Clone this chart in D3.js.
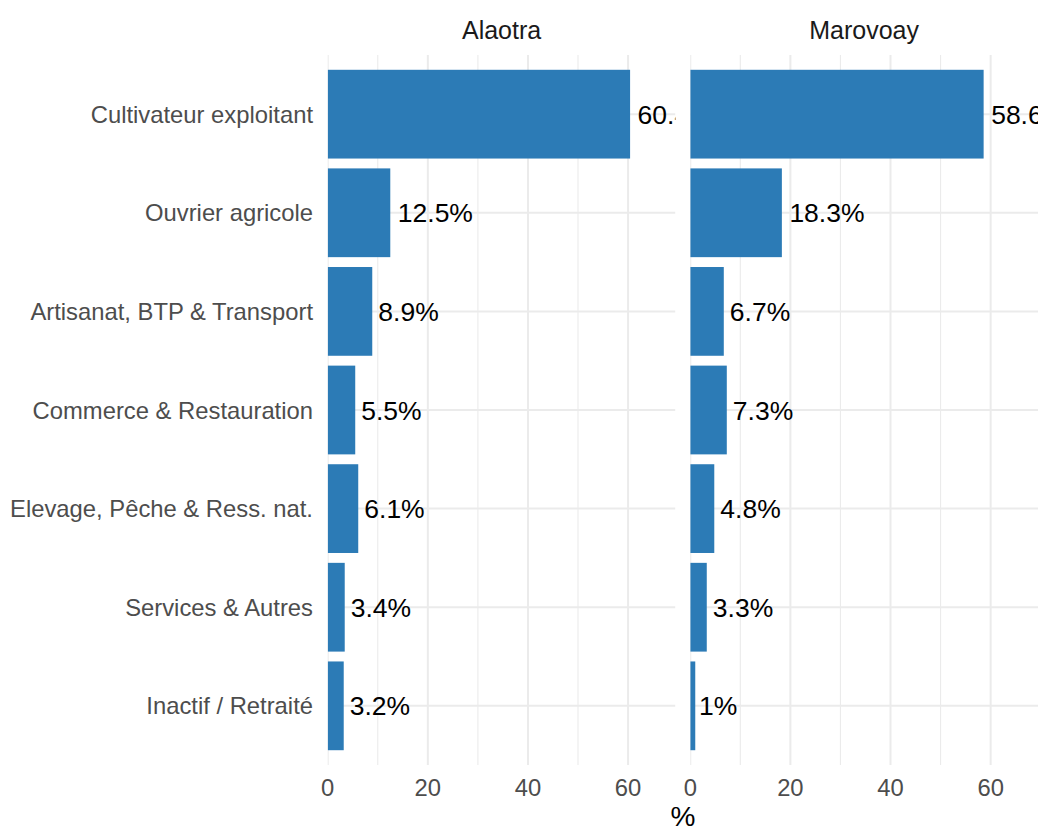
<!DOCTYPE html>
<html>
<head>
<meta charset="utf-8">
<script src="https://cdn.jsdelivr.net/npm/d3@7"></script>
<style>
	body { margin: 0; background: #fff; }
	text { font-family: "Liberation Sans", Arial, Helvetica, sans-serif; }
</style>
</head>
<body>
<svg id="chart"></svg>
<script>
const width		= 1044;
const height	= 831;

// data (share of households, %)
const categories = ["Cultivateur exploitant", "Ouvrier agricole", "Artisanat, BTP & Transport",
	"Commerce & Restauration", "Elevage, Pêche & Ress. nat.", "Services & Autres", "Inactif / Retraité"];
const regions = ["Alaotra", "Marovoay"];
const alaotraValues  = [60.4, 12.5, 8.9, 5.5, 6.1, 3.4, 3.2];
const marovoayValues = [58.6, 18.3, 6.7, 7.3, 4.8, 3.3, 1.0];
const xTicks = [0, 20, 40, 60];
const xMinorTicks = [10, 30, 50];

const seriesByRegion = [alaotraValues, marovoayValues];

const plotLeft	= 327.7;
const plotRight	= 1038;
const spacing	= 14.8;
const panelW	= (plotRight - plotLeft - spacing) / 2;
const panelTop	= 55;
const panelBottom = 765;

const maxVal = d3.max(seriesByRegion.flat());

const x = d3.scaleLinear()
	.domain([0, maxVal * 1.15])
	.range([0, panelW]);

const y = d3.scaleBand()
	.domain(categories)
	.range([panelTop, panelBottom])
	.paddingInner(0.1)
	.paddingOuter(0.15);

let fmt = v => (Math.round(v * 10) / 10).toString() + "%";

const svg = d3.select('#chart')
	.attr('width', width)
	.attr('height', height);

// category labels on the left
svg.append('g')
	.selectAll('text')
	.data(categories)
	.join('text')
		.attr('x', plotLeft - 14.7)
		.attr('y', d => y(d) + y.bandwidth() / 2)
		.attr('dy', '0.36em')
		.attr('text-anchor', 'end')
		.attr('font-size', 23.8)
		.attr('fill', '#4D4D4D')
		.text(d => d);

regions.forEach((region, i) => {
	const values = seriesByRegion[i];
	const rows = categories.map((c, j) => ({cat: c, value: values[j]}));
	const left = plotLeft + i * (panelW + spacing);

	svg.append('clipPath')
		.attr('id', 'clip-' + i)
		.append('rect')
		.attr('x', 0)
		.attr('y', panelTop)
		.attr('width', panelW)
		.attr('height', panelBottom - panelTop);

	const g = svg.append('g')
		.attr('transform', 'translate(' + left + ',0)');

	// strip title
	g.append('text')
		.attr('x', panelW / 2)
		.attr('y', 39)
		.attr('text-anchor', 'middle')
		.attr('font-size', 25)
		.attr('fill', '#1A1A1A')
		.text(region);

	const inner = g.append('g').attr('clip-path', 'url(#clip-' + i + ')');

	// grid
	inner.append('g')
		.selectAll('line')
		.data(xMinorTicks)
		.join('line')
			.attr('x1', d => x(d)).attr('x2', d => x(d))
			.attr('y1', panelTop).attr('y2', panelBottom)
			.attr('stroke', '#EBEBEB')
			.attr('stroke-width', 1.1);

	inner.append('g')
		.selectAll('line')
		.data(xTicks)
		.join('line')
			.attr('x1', d => x(d)).attr('x2', d => x(d))
			.attr('y1', panelTop).attr('y2', panelBottom)
			.attr('stroke', '#EBEBEB')
			.attr('stroke-width', 2);

	inner.append('g')
		.selectAll('line')
		.data(categories)
		.join('line')
			.attr('x1', 0).attr('x2', panelW)
			.attr('y1', d => y(d) + y.bandwidth() / 2)
			.attr('y2', d => y(d) + y.bandwidth() / 2)
			.attr('stroke', '#EBEBEB')
			.attr('stroke-width', 2);

	// bars
	inner.append('g')
		.selectAll('rect')
		.data(rows)
		.join('rect')
			.attr('x', x(0))
			.attr('y', d => y(d.cat))
			.attr('width', d => x(d.value) - x(0))
			.attr('height', y.bandwidth())
			.attr('fill', '#2C7BB6');

	// value labels (hjust = -0.1)
	inner.append('g')
		.selectAll('text')
		.data(rows)
		.join('text')
			.attr('y', d => y(d.cat) + y.bandwidth() / 2)
			.attr('dy', '0.36em')
			.attr('font-size', 26.5)
			.attr('fill', '#000')
			.text(d => fmt(d.value))
			.attr('x', function(d) {
				const w = this.getComputedTextLength();
				return x(d.value) + 0.1 * w;
			});

	// x axis tick labels
	g.append('g')
		.selectAll('text')
		.data(xTicks)
		.join('text')
			.attr('x', d => x(d))
			.attr('y', 796)
			.attr('text-anchor', 'middle')
			.attr('font-size', 23.8)
			.attr('fill', '#4D4D4D')
			.text(d => d);
});

// axis title
svg.append('text')
	.attr('x', (plotLeft + plotRight) / 2)
	.attr('y', 826)
	.attr('text-anchor', 'middle')
	.attr('font-size', 28)
	.attr('fill', '#000')
	.text('%');
</script>
</body>
</html>
